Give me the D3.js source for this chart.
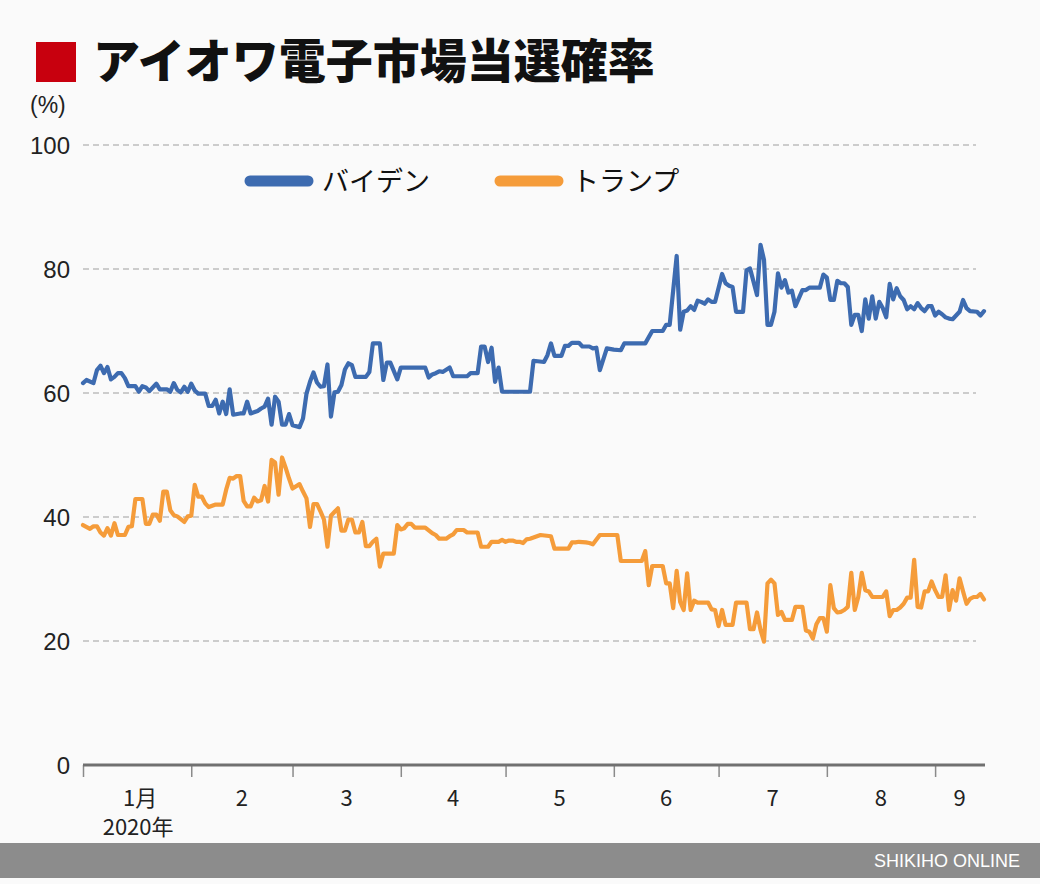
<!DOCTYPE html>
<html>
<head>
<meta charset="utf-8">
<script src="https://cdn.jsdelivr.net/npm/d3@7"></script>
<style>
  html, body { margin: 0; padding: 0; background: #fafafa; }
  svg { display: block; }
</style>
</head>
<body>
<svg id="chart" width="1040" height="884"></svg>
<script>
const title = "アイオワ電子市場当選確率";
const unitLabel = "(%)";
const yTicks = [0, 20, 40, 60, 80, 100];
const monthLabels = ["1月", "2", "3", "4", "5", "6", "7", "8", "9"];
const yearLabel = "2020年";
const seriesNames = ["バイデン", "トランプ"];
const seriesColors = ["#3d6bb0", "#f59c3a"];
const credit = "SHIKIHO ONLINE";
const startDate = "2020-01-01";
const endDate = "2020-09-15";

const biden = [
["01-01",61.6],["01-02",62.1],["01-04",61.6],["01-05",63.7],["01-06",64.4],["01-07",63.2],["01-08",64.2],["01-09",62.2],
["01-10",62.6],["01-11",63.2],["01-12",63.2],["01-13",62.4],["01-14",61.1],["01-16",61.1],["01-17",60.2],["01-18",61.1],
["01-19",60.9],["01-20",60.3],["01-22",61.5],["01-23",60.6],["01-25",60.6],["01-26",60.2],["01-27",61.6],["01-28",60.5],
["01-29",60.1],["01-30",61.0],["01-31",60.2],["02-01",61.5],["02-02",60.4],["02-03",59.9],["02-05",59.9],["02-06",57.9],
["02-07",57.9],["02-08",58.9],["02-09",56.7],["02-10",58.6],["02-11",56.6],["02-12",60.6],["02-13",56.5],["02-15",56.7],
["02-16",56.7],["02-17",58.6],["02-18",56.7],["02-20",57.1],["02-21",57.5],["02-22",57.8],["02-23",59.1],["02-24",54.9],
["02-25",59.4],["02-26",58.6],["02-27",54.9],["02-28",54.9],["02-29",56.6],["03-01",54.8],["03-03",54.5],["03-04",55.9],
["03-05",59.9],["03-06",61.8],["03-07",63.3],["03-08",61.7],["03-09",61.0],["03-10",61.1],["03-11",64.6],["03-12",56.2],
["03-13",60.1],["03-14",60.2],["03-15",61.3],["03-16",63.8],["03-17",64.8],["03-18",64.5],["03-19",62.6],["03-22",62.6],
["03-23",63.4],["03-24",68.0],["03-26",68.0],["03-27",62.1],["03-28",64.9],["03-29",64.9],["03-31",62.2],["04-01",64.1],
["04-08",64.1],["04-09",62.5],["04-10",63.0],["04-11",63.2],["04-12",63.5],["04-13",63.4],["04-15",64.1],["04-16",62.7],
["04-20",62.7],["04-21",63.2],["04-23",63.2],["04-24",67.5],["04-25",67.5],["04-26",65.0],["04-27",67.3],["04-28",61.8],
["04-29",64.1],["04-30",60.2],["05-08",60.2],["05-09",65.2],["05-12",65.0],["05-13",66.1],["05-14",68.0],["05-15",66.0],
["05-17",66.0],["05-18",67.6],["05-19",67.6],["05-20",68.1],["05-22",68.1],["05-23",67.5],["05-25",67.5],["05-26",67.2],
["05-27",67.3],["05-28",63.7],["05-30",67.2],["06-01",67.0],["06-03",66.9],["06-04",68.0],["06-10",68.0],["06-12",70.0],
["06-15",70.0],["06-16",71.0],["06-17",71.0],["06-19",82.1],["06-20",70.2],["06-21",73.1],["06-22",73.3],["06-23",74.0],
["06-24",73.4],["06-25",74.9],["06-26",74.7],["06-27",74.4],["06-28",75.1],["06-29",74.7],["06-30",74.7],["07-02",79.2],
["07-03",77.7],["07-04",77.3],["07-05",77.1],["07-06",73.1],["07-08",73.1],["07-09",79.8],["07-10",80.1],["07-12",75.8],
["07-13",83.9],["07-14",81.5],["07-15",71.0],["07-16",71.0],["07-17",73.1],["07-18",79.3],["07-19",77.0],["07-20",78.2],
["07-21",76.2],["07-22",76.5],["07-23",74.0],["07-24",75.3],["07-25",76.6],["07-26",76.6],["07-27",77.0],["07-30",77.0],
["07-31",79.1],["08-01",78.6],["08-02",75.0],["08-03",75.0],["08-04",78.1],["08-05",77.7],["08-06",77.7],["08-07",77.1],
["08-08",71.0],["08-09",72.6],["08-10",72.6],["08-11",70.0],["08-12",75.1],["08-13",72.0],["08-14",75.6],["08-15",72.0],
["08-16",74.7],["08-17",73.7],["08-18",72.2],["08-19",77.6],["08-20",75.1],["08-21",76.9],["08-22",75.6],["08-23",75.0],
["08-24",73.5],["08-25",74.0],["08-26",73.5],["08-27",74.5],["08-28",73.7],["08-29",73.2],["08-30",74.0],["08-31",74.0],
["09-01",72.5],["09-02",73.1],["09-03",72.7],["09-04",72.2],["09-05",72.0],["09-06",71.9],["09-08",73.1],["09-09",75.0],
["09-10",73.7],["09-11",73.2],["09-13",73.1],["09-14",72.5],["09-15",73.2]
];

const trump = [
["01-01",38.7],["01-03",38.1],["01-04",38.5],["01-05",38.5],["01-06",37.5],["01-07",37.0],["01-08",38.2],["01-09",37.0],
["01-10",39.0],["01-11",37.1],["01-13",37.1],["01-14",38.4],["01-15",38.5],["01-16",42.9],["01-18",42.9],["01-19",38.9],
["01-20",38.9],["01-21",40.4],["01-22",40.4],["01-23",39.4],["01-24",44.1],["01-25",44.1],["01-26",41.1],["01-27",40.3],
["01-28",40.1],["01-30",39.2],["01-31",40.1],["02-01",40.2],["02-02",45.2],["02-03",43.3],["02-04",43.3],["02-05",42.2],
["02-06",41.6],["02-07",41.8],["02-08",42.0],["02-10",42.0],["02-11",44.4],["02-12",46.3],["02-13",46.2],["02-14",46.6],
["02-15",46.6],["02-16",42.6],["02-17",41.7],["02-18",41.7],["02-19",43.1],["02-20",42.5],["02-21",42.7],["02-22",45.0],
["02-23",42.5],["02-24",49.2],["02-25",48.8],["02-26",43.6],["02-27",49.6],["02-28",48.0],["02-29",46.2],["03-01",44.6],
["03-03",45.3],["03-04",44.1],["03-05",43.0],["03-06",38.4],["03-07",42.1],["03-08",42.1],["03-09",40.9],["03-10",39.6],
["03-11",35.2],["03-12",40.2],["03-13",40.8],["03-14",41.4],["03-15",37.8],["03-16",37.8],["03-17",39.6],["03-18",39.6],
["03-19",37.5],["03-20",37.5],["03-21",39.2],["03-22",35.3],["03-23",35.3],["03-24",36.0],["03-25",36.5],["03-26",32.0],
["03-27",34.1],["03-30",34.1],["03-31",38.7],["04-01",38.0],["04-02",38.2],["04-03",38.9],["04-04",38.9],["04-05",38.3],
["04-08",38.3],["04-10",37.4],["04-11",37.1],["04-12",36.5],["04-14",36.5],["04-15",36.9],["04-16",37.2],["04-17",37.9],
["04-19",37.9],["04-20",37.5],["04-23",37.5],["04-24",35.2],["04-26",35.2],["04-27",36.0],["04-29",36.0],["04-30",36.3],
["05-01",36.0],["05-02",36.2],["05-03",36.2],["05-04",36.0],["05-05",36.0],["05-06",35.8],["05-07",36.4],["05-08",36.5],
["05-10",36.9],["05-11",37.1],["05-14",36.9],["05-15",34.9],["05-19",34.9],["05-20",35.9],["05-21",35.9],["05-22",36.0],
["05-24",35.9],["05-25",35.8],["05-26",35.6],["05-28",37.1],["06-02",37.1],["06-03",32.9],["06-09",32.9],["06-10",34.5],
["06-11",29.0],["06-12",32.1],["06-15",32.1],["06-16",29.3],["06-17",29.3],["06-18",25.3],["06-19",31.3],["06-20",26.3],
["06-21",25.0],["06-22",30.9],["06-23",25.0],["06-24",26.5],["06-25",26.2],["06-28",26.2],["06-29",25.1],["06-30",25.0],
["07-01",22.4],["07-02",25.0],["07-03",22.6],["07-05",22.6],["07-06",26.2],["07-09",26.2],["07-10",21.9],["07-11",21.9],
["07-12",24.6],["07-13",21.8],["07-14",19.9],["07-15",29.3],["07-16",29.9],["07-17",29.3],["07-18",24.2],["07-19",24.7],
["07-20",23.4],["07-22",23.4],["07-23",25.5],["07-25",25.5],["07-26",21.7],["07-27",21.5],["07-28",20.4],["07-29",22.7],
["07-30",23.7],["07-31",23.7],["08-01",21.5],["08-02",29.0],["08-03",25.3],["08-04",24.6],["08-05",24.7],["08-06",25.0],
["08-07",25.5],["08-08",31.0],["08-09",25.0],["08-10",27.1],["08-11",31.0],["08-12",28.2],["08-13",28.0],["08-14",27.1],
["08-17",27.1],["08-18",28.0],["08-19",24.0],["08-20",25.0],["08-21",25.0],["08-22",25.4],["08-23",26.0],["08-24",27.0],
["08-25",27.0],["08-26",33.1],["08-27",25.5],["08-28",25.4],["08-29",28.0],["08-30",28.0],["08-31",29.6],["09-01",28.2],
["09-02",27.1],["09-03",27.1],["09-04",30.6],["09-05",25.0],["09-06",28.2],["09-07",26.5],["09-08",30.1],["09-09",28.0],
["09-10",26.0],["09-11",26.8],["09-12",27.1],["09-13",27.1],["09-14",27.6],["09-15",26.7]
];

const parse = d3.timeParse("%Y-%m-%d");
const toPoints = arr => arr.map(([md, v]) => ({ date: parse("2020-" + md), value: v }));
const series = [toPoints(biden), toPoints(trump)];

const svg = d3.select("#chart");
const W = 1040, H = 884;
const plotLeft = 83, plotRight = 984, plotTop = 145, plotBottom = 765;

svg.append("rect").attr("width", W).attr("height", H).attr("fill", "#fafafa");

const x = d3.scaleTime().domain([parse(startDate), parse(endDate)]).range([plotLeft, plotRight]);
const y = d3.scaleLinear().domain([0, 100]).range([plotBottom, plotTop]);

// Title
svg.append("rect").attr("x", 36).attr("y", 42).attr("width", 40).attr("height", 40).attr("fill", "#c8000e");
svg.append("text").attr("x", 93).attr("y", 78)
  .attr("font-family", "'Noto Sans CJK JP', sans-serif").attr("font-weight", 900)
  .attr("font-size", 47).attr("fill", "#111")
  .text(title);

const numFont = "'Liberation Sans Narrow', 'Liberation Sans', Arial, sans-serif";

// Unit label
svg.append("text").attr("x", 30).attr("y", 113)
  .attr("font-family", numFont).attr("font-size", 23).attr("fill", "#222")
  .text(unitLabel);

// Gridlines
const grid = svg.append("g");
yTicks.filter(t => t > 0).forEach(t => {
  grid.append("line").attr("x1", plotLeft).attr("x2", 976)
    .attr("y1", y(t)).attr("y2", y(t))
    .attr("stroke", "#bdbdbd").attr("stroke-width", 1.5).attr("stroke-dasharray", "6,4");
});

// Y labels
const yAxis = d3.axisLeft(y).tickValues(yTicks).tickSize(0).tickPadding(0);
const yg = svg.append("g").attr("transform", `translate(${plotLeft - 13},0)`).call(yAxis);
yg.select(".domain").remove();
yg.selectAll("text").attr("font-family", numFont).attr("font-size", 24).attr("fill", "#222").attr("dy", "0.35em");

// X axis
const months = d3.timeMonth.range(parse(startDate), parse(endDate));
const xAxis = d3.axisBottom(x).tickValues(months).tickSize(12).tickFormat("");
const xg = svg.append("g").attr("transform", `translate(0,${plotBottom})`).call(xAxis);
xg.select(".domain").remove();
xg.selectAll(".tick line").attr("stroke", "#8a8a8a").attr("stroke-width", 1.5);
svg.append("line").attr("x1", plotLeft).attr("x2", plotRight + 1).attr("y1", plotBottom).attr("y2", plotBottom)
  .attr("stroke", "#707070").attr("stroke-width", 3);

const bounds = months.map(m => x(m)).concat([x(parse(endDate))]);
monthLabels.forEach((lab, i) => {
  svg.append("text").attr("x", (bounds[i] + bounds[i + 1]) / 2 + (i === 0 ? 3 : 0)).attr("y", 806)
    .attr("text-anchor", "middle").attr("font-family", "'Liberation Sans Narrow', 'Noto Sans CJK JP', sans-serif")
    .attr("font-size", 22).attr("fill", "#222").text(lab);
});
svg.append("text").attr("x", (bounds[0] + bounds[1]) / 2 + 1).attr("y", 835)
  .attr("text-anchor", "middle").attr("font-family", "'Liberation Sans Narrow', 'Noto Sans CJK JP', sans-serif")
  .attr("font-size", 22).attr("fill", "#222").text(yearLabel);

// Lines
const line = d3.line().x(d => x(d.date)).y(d => y(d.value)).curve(d3.curveLinear);
series.forEach((s, i) => {
  svg.append("path").datum(s).attr("d", line).attr("fill", "none")
    .attr("stroke", seriesColors[i]).attr("stroke-width", 4.2)
    .attr("stroke-linejoin", "round").attr("stroke-linecap", "round");
});

// Legend
const legendX = [250, 500];
seriesNames.forEach((n, i) => {
  svg.append("line").attr("x1", legendX[i]).attr("x2", legendX[i] + 58).attr("y1", 181).attr("y2", 181)
    .attr("stroke", seriesColors[i]).attr("stroke-width", 11).attr("stroke-linecap", "round");
  svg.append("text").attr("x", legendX[i] + 72).attr("y", 191)
    .attr("font-family", "'Noto Sans CJK JP', sans-serif").attr("font-size", 27).attr("fill", "#111")
    .text(n);
});

// Footer
svg.append("rect").attr("x", 0).attr("y", 843).attr("width", W).attr("height", 35).attr("fill", "#8c8c8c");
svg.append("text").attr("x", 1020).attr("y", 867).attr("text-anchor", "end")
  .attr("font-family", numFont).attr("font-size", 18).attr("fill", "#fff").text(credit);
</script>
</body>
</html>
